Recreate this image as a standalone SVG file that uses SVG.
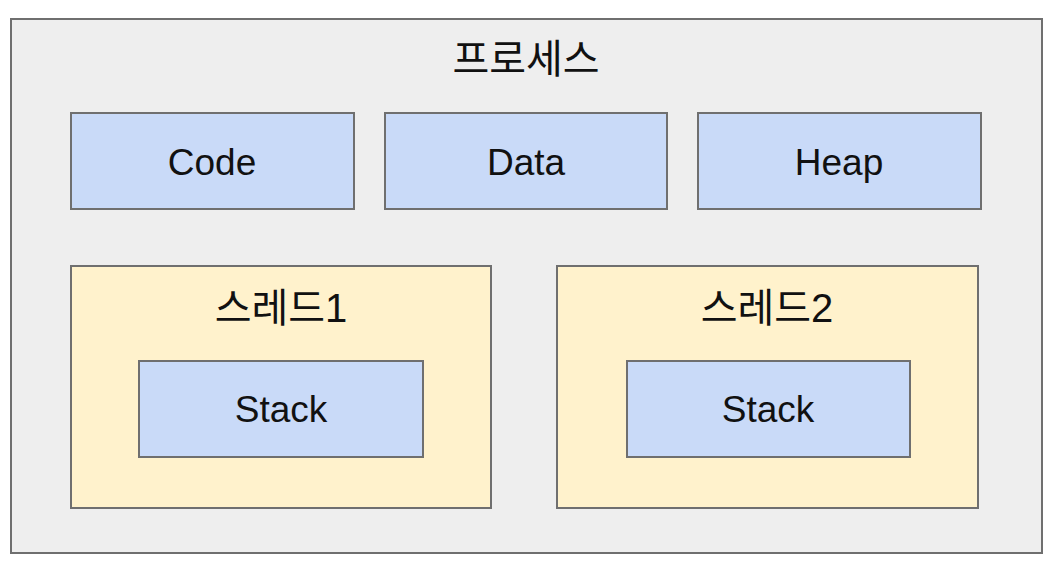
<svg xmlns="http://www.w3.org/2000/svg" width="1050" height="570" viewBox="0 0 1050 570">
<style>
.box{stroke:#6f6f6f;stroke-width:2}
.outer{fill:#eeeeee}
.blue{fill:#c9daf8}
.yellow{fill:#fff2cc}
text{font-family:"Liberation Sans","Noto Sans CJK KR",sans-serif;font-size:37px;fill:#111;text-anchor:middle;dominant-baseline:central}
text.ko{font-size:40px}
</style>
<rect width="1050" height="570" fill="#ffffff"/>
<g id="process">
<rect class="box outer" x="11" y="19" width="1031" height="534"/>
<text class="ko" x="526" y="59">프로세스</text>
</g>
<g id="code">
<rect class="box blue" x="71" y="113" width="283" height="96"/>
<text x="212" y="162">Code</text>
</g>
<g id="data">
<rect class="box blue" x="385" y="113" width="282" height="96"/>
<text x="526" y="162">Data</text>
</g>
<g id="heap">
<rect class="box blue" x="698" y="113" width="283" height="96"/>
<text x="839" y="162">Heap</text>
</g>
<g id="thread1">
<rect class="box yellow" x="71" y="266" width="420" height="242"/>
<text class="ko" x="281" y="308">스레드1</text>
</g>
<g id="stack1">
<rect class="box blue" x="139" y="361" width="284" height="96"/>
<text x="281" y="409">Stack</text>
</g>
<g id="thread2">
<rect class="box yellow" x="557" y="266" width="421" height="242"/>
<text class="ko" x="767" y="308">스레드2</text>
</g>
<g id="stack2">
<rect class="box blue" x="627" y="361" width="283" height="96"/>
<text x="768" y="409">Stack</text>
</g>
<g id="connectors"/>
</svg>
